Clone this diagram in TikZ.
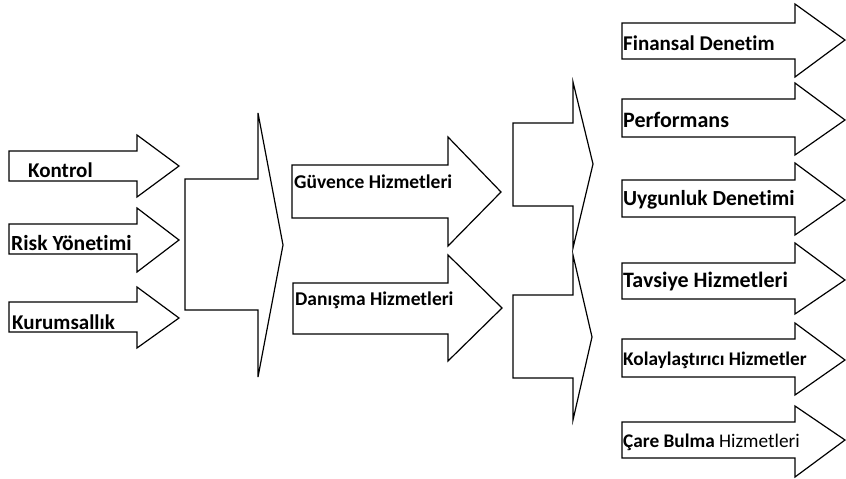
\documentclass[tikz,border=0pt]{standalone}
\usepackage{fontspec}
\setmainfont[Ligatures=NoCommon]{Carlito}
\usepackage{tikz}
\usetikzlibrary{positioning}

\tikzset{
  blockarrow/.style={draw, line width=1.2pt, line join=miter, fill=white},
  lbl/.style={anchor=west, inner sep=0pt, font=\fontsize{#1}{24}\selectfont\bfseries},
  lbl/.default=21
}

\begin{document}
\begin{tikzpicture}[x=1pt, y=-1pt]
\useasboundingbox (0,0) rectangle (846,479);

% left column
\draw[blockarrow] (9,151) -- (137,151) -- (137,135) -- (179,166) -- (137,197) -- (137,181) -- (9,181) -- cycle;
\draw[blockarrow] (9,224) -- (137,224) -- (137,208) -- (179,240) -- (137,272) -- (137,254) -- (9,254) -- cycle;
\draw[blockarrow] (9,302) -- (137,302) -- (137,287) -- (179,318) -- (137,348) -- (137,332) -- (9,332) -- cycle;
\node[lbl] (kontrol) at (28,170) {Kontrol};
\node[lbl=21.6] (risk) at (11,243) {Risk Yönetimi};
\node[lbl] (kurum) at (12,322) {Kurumsallık};

% first bracket
\draw[blockarrow] (185,179) -- (258,179) -- (258,113) -- (283,245) -- (258,377) -- (258,310) -- (185,310) -- cycle;

% middle column
\draw[blockarrow] (292,165) -- (448,165) -- (448,137) -- (501,192) -- (448,246) -- (448,218) -- (292,218) -- cycle;
\draw[blockarrow] (293,283) -- (448,283) -- (448,255) -- (502,308) -- (448,361) -- (448,334) -- (293,334) -- cycle;
\node[lbl=19.5] (guvence) at (294,182) {Güvence Hizmetleri};
\node[lbl=19.5] (danisma) at (295,300) {Danışma Hizmetleri};

% second brackets
\draw[blockarrow] (513,123) -- (573,123) -- (573,82) -- (593,164) -- (573,248) -- (573,206) -- (513,206) -- cycle;
\draw[blockarrow] (513,295) -- (573,295) -- (573,255) -- (592,337) -- (573,420) -- (573,378) -- (513,378) -- cycle;

% right column
\draw[blockarrow] (622,23) -- (795,23) -- (795,4) -- (845,40) -- (795,77) -- (795,59) -- (622,59) -- cycle;
\draw[blockarrow] (622,99) -- (795,99) -- (795,83) -- (845,120) -- (795,155) -- (795,137) -- (622,137) -- cycle;
\draw[blockarrow] (622,180) -- (795,180) -- (795,163) -- (845,200) -- (795,235) -- (795,217) -- (622,217) -- cycle;
\draw[blockarrow] (622,263) -- (795,263) -- (795,243) -- (845,280) -- (795,314) -- (795,299) -- (622,299) -- cycle;
\draw[blockarrow] (622,339) -- (795,339) -- (795,323) -- (845,360) -- (795,395) -- (795,377) -- (622,377) -- cycle;
\draw[blockarrow] (622,422) -- (795,422) -- (795,406) -- (845,440) -- (795,477) -- (795,458) -- (622,458) -- cycle;
\node[lbl] (finans) at (623,43) {Finansal Denetim};
\node[lbl=22] (perf) at (623,120) {Performans};
\node[lbl=21.5] (uygun) at (623,200) {Uygunluk Denetimi};
\node[lbl=22] (tavsiye) at (623,282) {Tavsiye Hizmetleri};
\node[lbl=19.3] (kolay) at (623,360) {Kolaylaştırıcı Hizmetler};
\node[lbl=19.3] (care) at (623,442) {Çare Bulma \mdseries Hizmetleri};
\end{tikzpicture}
\end{document}
